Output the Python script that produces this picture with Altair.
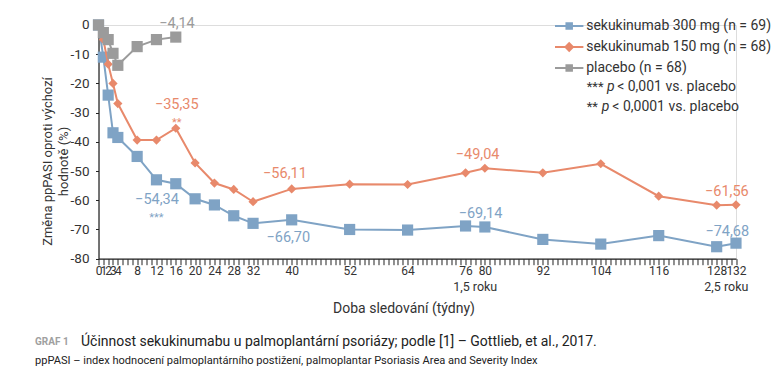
import altair as alt
import pandas as pd

# ---------------- data ----------------
series_names = ["sekukinumab 300 mg (n = 69)", "sekukinumab 150 mg (n = 68)", "placebo (n = 68)"]
series_colors = ["#7fa3c5", "#e8896b", "#9b9b9b"]

weeks_300 = [0, 1, 2, 3, 4, 8, 12, 16, 20, 24, 28, 32, 40, 52, 64, 76, 80, 92, 104, 116, 128, 132]
vals_300 = [0, -11, -24, -36.9, -38.5, -45, -53, -54.34, -59.5, -61.6, -65.3, -67.9, -66.70, -70, -70.2,
            -68.8, -69.14, -73.4, -75, -72.1, -75.9, -74.68]

weeks_150 = [0, 1, 2, 3, 4, 8, 12, 16, 20, 24, 28, 32, 40, 52, 64, 76, 80, 92, 104, 116, 128, 132]
vals_150 = [0, -5, -13.4, -20, -26.9, -39.4, -39.4, -35.35, -47.2, -54.1, -56.3, -60.5, -56.11, -54.5, -54.6,
            -50.6, -49.04, -50.6, -47.5, -58.6, -61.7, -61.56]

weeks_pbo = [0, 1, 2, 3, 4, 8, 12, 16]
vals_pbo = [0, -2.6, -5, -9.7, -13.8, -7.4, -5, -4.14]

tick_label_weeks = [0, 1, 2, 3, 4, 8, 12, 16, 20, 24, 28, 32, 40, 52, 64, 76, 80, 92, 104, 116, 128, 132]
y_ticks = [-80, -70, -60, -50, -40, -30, -20, -10, 0]

# value annotations (text, series, anchor week, anchor value)
ann_text = ["−4,14", "−35,35", "−54,34", "−56,11", "−66,70", "−49,04", "−69,14", "−61,56", "−74,68"]
ann_series = [2, 1, 0, 1, 0, 1, 0, 1, 0]
ann_week = [16.25, 16.2, 12.1, 38.6, 39.3, 78.5, 79.1, 130.1, 130.2]
ann_value = [0.2, -27.4, -59.9, -51.1, -73.05, -44.6, -64.8, -57.1, -70.8]

star_text = ["**", "***"]
star_series = [1, 0]
star_week = [16.2, 12.0]
star_value = [-33.6, -66.0]

year_text = ["1,5 roku", "2,5 roku"]
year_week = [78, 130]

foot_stars = ["***", "**"]
foot_rest = ["< 0,001 vs. placebo", "< 0,0001 vs. placebo"]
foot_value = [-21.1, -28.0]
foot_star_week = [101.1, 101.1]
foot_p_week = [105.3, 104.2]
foot_rest_week = [107.4, 106.4]

# ---------------- build tables ----------------
rows = []
for name, wks, vals in zip(series_names, [weeks_300, weeks_150, weeks_pbo], [vals_300, vals_150, vals_pbo]):
    for w, v in zip(wks, vals):
        rows.append({"week": w, "value": v, "series": name})
df = pd.DataFrame(rows)

ann_df = pd.DataFrame({"week": ann_week, "value": ann_value, "text": ann_text,
                       "series": [series_names[i] for i in ann_series]})
star_df = pd.DataFrame({"week": star_week, "value": star_value, "text": star_text,
                        "series": [series_names[i] for i in star_series]})
year_df = pd.DataFrame({"week": year_week, "value": [-80, -80], "text": year_text})
foot_df = pd.DataFrame({"stars": foot_stars, "rest": foot_rest, "value": foot_value,
                        "ws": foot_star_week, "wp": foot_p_week, "wr": foot_rest_week})

FONT = "Roboto"
W, H = 637.5, 233.7

x_scale = alt.Scale(domain=[0, 132], nice=False, zero=False)
y_scale = alt.Scale(domain=[-80, 0], nice=False)
color_scale = alt.Scale(domain=series_names, range=series_colors)

label_expr = "indexof([" + ",".join(str(v) for v in tick_label_weeks) + "], datum.value) >= 0 ? datum.value : ''"

x_axis = alt.Axis(values=list(range(0, 133)), labelExpr=label_expr, labelOverlap=False, labelFlush=False,
                  tickSize=6, tickColor="#222", domainColor="#222", tickWidth=1, domainWidth=1.2,
                  labelFont=FONT, labelFontSize=12, labelColor="#333", labelPadding=1, grid=False,
                  title="Doba sledování (týdny)", titleFont=FONT, titleFontSize=14, titleFontWeight="normal",
                  titleColor="#333", titleX=305, titleY=50, titleBaseline="middle", titleAlign="center")
y_axis = alt.Axis(values=y_ticks, labelExpr="'' + datum.value", tickSize=3, tickColor="#222",
                  domainColor="#222", domainWidth=1.2, labelFont=FONT, labelFontSize=13.5, labelColor="#333",
                  labelPadding=6.5, grid=False,
                  title=["Změna ppPASI oproti výchozí", "hodnotě (%)"], titleFont=FONT, titleFontSize=13,
                  titleFontWeight="normal", titleColor="#333", titleX=-51.5, titleY=136,
                  titleBaseline="middle", titleAlign="center", titleLineHeight=17)

X = alt.X("week:Q", scale=x_scale, axis=x_axis)
Y = alt.Y("value:Q", scale=y_scale, axis=y_axis)

base = alt.Chart(df)
shapes = ["square", "diamond", "square"]
sizes = [125, 85, 125]

layers = []
for i, name in enumerate(series_names):
    sub = base.transform_filter(alt.datum.series == name)
    line = sub.mark_line(strokeWidth=2, color=series_colors[i]).encode(x=X, y=Y)
    pts = sub.mark_point(filled=True, shape=shapes[i], size=sizes[i], opacity=1,
                         color=series_colors[i]).encode(x=X, y=Y)
    layers += [line, pts]

# legend layer (draws nothing, provides the legend)
sq_path = "M-2.84,0H2.84M-0.55,-0.55H0.55V0.55H-0.55Z"
dm_path = "M-2.84,0H2.84M0,-0.75L0.75,0L0,0.75L-0.75,0Z"
legend = alt.Legend(orient="none", legendX=463.7, legendY=-6, title=None, labelFont=FONT, labelFontSize=14,
                    labelFontWeight="normal", labelColor="#333", labelLimit=400, symbolSize=100,
                    symbolStrokeWidth=2, rowPadding=6, labelOffset=10, symbolOpacity=1)
leg_layer = base.transform_filter("false").mark_point(filled=True, strokeWidth=2).encode(
    x=X, y=Y,
    color=alt.Color("series:N", scale=color_scale, legend=legend, sort=series_names),
    stroke=alt.Stroke("series:N", scale=alt.Scale(domain=series_names, range=series_colors), legend=legend,
                      sort=series_names),
    shape=alt.Shape("series:N", scale=alt.Scale(domain=series_names, range=[sq_path, dm_path, sq_path]),
                    legend=legend, sort=series_names),
)
layers.append(leg_layer)

ann = alt.Chart(ann_df).mark_text(font=FONT, fontSize=14.5, baseline="middle", align="center").encode(
    x=X, y=Y, text="text:N", color=alt.Color("series:N", scale=color_scale, legend=None))
stars = alt.Chart(star_df).mark_text(font=FONT, fontSize=11, baseline="middle", align="center").encode(
    x=X, y=Y, text="text:N", color=alt.Color("series:N", scale=color_scale, legend=None))
years = alt.Chart(year_df).mark_text(font=FONT, fontSize=12.5, baseline="middle", align="center",
                                     dy=28, color="#333").encode(x=X, y=Y, text="text:N")
foot1 = alt.Chart(foot_df).mark_text(font=FONT, fontSize=13, baseline="middle", align="left",
                                     color="#333").encode(
    x=alt.X("ws:Q", scale=x_scale, axis=x_axis), y=Y, text="stars:N")
foot2 = alt.Chart(foot_df).mark_text(font=FONT, fontSize=14, fontStyle="italic", baseline="middle",
                                     align="left", color="#333").encode(
    x=alt.X("wp:Q", scale=x_scale, axis=x_axis), y=Y, text=alt.value("p"))
foot3 = alt.Chart(foot_df).mark_text(font=FONT, fontSize=14, baseline="middle", align="left",
                                     color="#333").encode(
    x=alt.X("wr:Q", scale=x_scale, axis=x_axis), y=Y, text="rest:N")

cap_df = pd.DataFrame({"t": ["x"]})
cap0 = alt.Chart(cap_df).mark_text(font=FONT, fontSize=10, fontWeight="bold", color="#a0a0a0", align="left",
                                   baseline="middle", text="GRAF 1").encode(x=alt.value(-63.5), y=alt.value(317))
cap1 = alt.Chart(cap_df).mark_text(font=FONT, fontSize=14, color="#222", align="left",
                                   baseline="middle",
                                   text="Účinnost sekukinumabu u palmoplantární psoriázy; podle [1] – Gottlieb, et al., 2017."
                                   ).encode(x=alt.value(-17.5), y=alt.value(317))
cap2 = alt.Chart(cap_df).mark_text(font=FONT, fontSize=11.1, color="#222", align="left", baseline="middle",
                                   text="ppPASI – index hodnocení palmoplantárního postižení, palmoplantar Psoriasis Area and Severity Index"
                                   ).encode(x=alt.value(-63.5), y=alt.value(336))

chart = alt.layer(*layers, ann, stars, years, foot1, foot2, foot3, cap0, cap1, cap2).properties(
    width=W, height=H,
    autosize=alt.AutoSizeParams(type="none"),
    padding={"left": 90.5, "top": 17, "right": 35, "bottom": 123},
).configure_view(stroke=None).configure(background="white")

chart.save("out.html", embed_options={"renderer": "svg", "actions": False})
